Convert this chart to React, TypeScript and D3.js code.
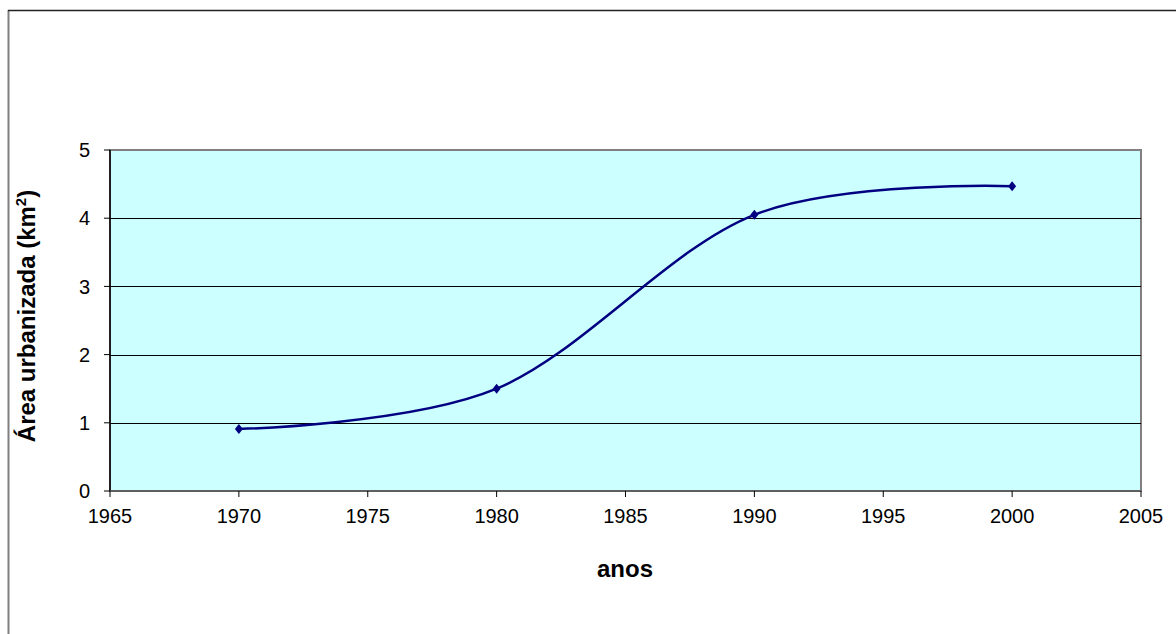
import React from "react";
import * as d3 from "d3";

const years = [1970, 1980, 1990, 2000];
const areaValues = [0.91, 1.5, 4.05, 4.47];
const xTicks = [1965, 1970, 1975, 1980, 1985, 1990, 1995, 2000, 2005];
const yTicks = [0, 1, 2, 3, 4, 5];

const W = 1176;
const H = 634;
const plot = { left: 110, right: 1141, top: 150, bottom: 491 };
const font = "'Liberation Sans', Arial, sans-serif";

export default function App() {
  const x = d3.scaleLinear().domain([1965, 2005]).range([plot.left, plot.right]);
  const y = d3.scaleLinear().domain([0, 5]).range([plot.bottom, plot.top]);
  const pts: [number, number][] = years.map((yr, i) => [x(yr), y(areaValues[i])]);
  const line = d3.line().curve(d3.curveCardinal.tension(0))(pts) || "";

  return (
    <svg
      width={W}
      height={H}
      style={{ position: "absolute", left: 0, top: 0, background: "#fff" }}
      fontFamily={font}
    >
      <rect x={0} y={0} width={W} height={H} fill="#fff" />
      {/* outer frame */}
      <line x1={8.5} y1={10} x2={8.5} y2={H} stroke="#808080" strokeWidth={2} />
      <line x1={8} y1={10.5} x2={W} y2={10.5} stroke="#222" strokeWidth={1.5} />

      {/* plot background */}
      <rect
        x={plot.left}
        y={plot.top}
        width={plot.right - plot.left}
        height={plot.bottom - plot.top}
        fill="#ccffff"
        stroke="#808080"
        strokeWidth={2}
      />
      {/* gridlines */}
      {yTicks.filter((t) => t > 0 && t < 5).map((t) => (
        <line key={t} x1={plot.left} x2={plot.right} y1={Math.round(y(t)) + 0.5} y2={Math.round(y(t)) + 0.5} stroke="#000" strokeWidth={1} />
      ))}
      {/* axes */}
      <line x1={plot.left} x2={plot.left} y1={plot.top} y2={plot.bottom} stroke="#000" strokeWidth={1.5} />
      <line x1={plot.left} x2={plot.right} y1={plot.bottom} y2={plot.bottom} stroke="#555" strokeWidth={1.5} />
      {/* y ticks */}
      {yTicks.map((t) => (
        <g key={t}>
          <line x1={plot.left - 6} x2={plot.left} y1={y(t)} y2={y(t)} stroke="#000" strokeWidth={1} />
          <text x={90} y={y(t)} dy="0.36em" textAnchor="end" fontSize={20} fill="#000">
            {t}
          </text>
        </g>
      ))}
      {/* x ticks */}
      {xTicks.map((t) => (
        <g key={t}>
          <line x1={x(t)} x2={x(t)} y1={plot.bottom} y2={plot.bottom + 6} stroke="#000" strokeWidth={1} />
          <text x={x(t)} y={plot.bottom + 32} textAnchor="middle" fontSize={20} fill="#000">
            {t}
          </text>
        </g>
      ))}
      {/* series */}
      <path d={line} fill="none" stroke="#000080" strokeWidth={2.5} />
      {pts.map(([px, py], i) => (
        <path key={i} d={`M${px},${py - 5}L${px + 4},${py}L${px},${py + 5}L${px - 4},${py}Z`} fill="#000080" />
      ))}
      {/* titles */}
      <text x={625} y={577} textAnchor="middle" fontSize={24} fontWeight="bold" fill="#000">
        anos
      </text>
      <text
        transform={`translate(35, 316) rotate(-90)`}
        textAnchor="middle"
        fontSize={24}
        fontWeight="bold"
        fill="#000"
      >
        Área urbanizada (km<tspan dy="-9" fontSize={15}>2</tspan><tspan dy="9">)</tspan>
      </text>
    </svg>
  );
}
